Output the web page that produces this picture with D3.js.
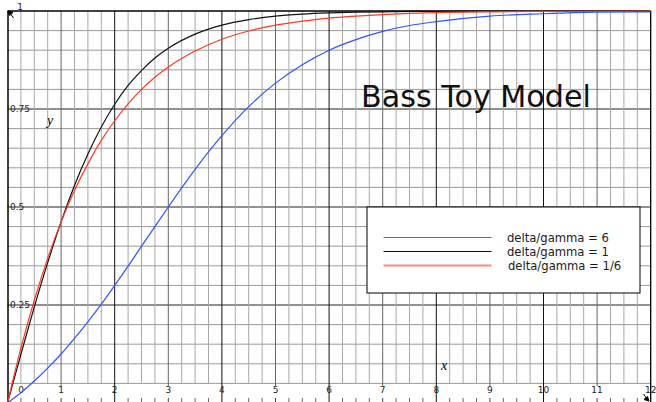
<!DOCTYPE html>
<html><head><meta charset="utf-8">
<script src="https://cdn.jsdelivr.net/npm/d3@7"></script>
<style>body{margin:0;background:#fff}svg{display:block}</style>
</head><body>
<svg id="c" width="656" height="402"></svg>
<script>
// ---- data ----
const xValues = [0,0.25,0.5,0.75,1,1.25,1.5,1.75,2,2.25,2.5,2.75,3,3.5,4,4.5,5,5.5,6,6.5,7,7.5,8,9,10,11,12];
const ratio6   = [0,0.026,0.056,0.089,0.125,0.165,0.207,0.252,0.300,0.349,0.400,0.450,0.500,0.596,0.682,0.756,0.816,0.863,0.900,0.927,0.948,0.963,0.973,0.987,0.993,0.997,0.998];
const ratio1   = [0,0.124,0.245,0.358,0.462,0.555,0.635,0.704,0.762,0.810,0.848,0.880,0.905,0.941,0.964,0.978,0.987,0.992,0.995,0.997,0.998,0.999,0.999,1.0,1.0,1.0,1.0];
const ratio1_6 = [0,0.140,0.262,0.369,0.462,0.542,0.610,0.670,0.720,0.763,0.800,0.831,0.857,0.898,0.928,0.949,0.964,0.974,0.982,0.987,0.991,0.994,0.996,0.998,0.999,0.999,1.0];
const seriesNames = ["delta/gamma = 6","delta/gamma = 1","delta/gamma = 1/6"];
const seriesColors = ["#2f55ff","#111111","#ff3a22"];
const legendColors = ["#4a66e8","#111111","#ff8a80"];
const xTickLabels = ["0","1","2","3","4","5","6","7","8","9","10","11","12"];
const yTickValues = [0.25,0.5,0.75,1];
const yTickLabels = ["0.25","0.5","0.75","1"];
const titleText = "Bass Toy Model";

const svg = d3.select("#c");
const x = d3.scaleLinear().domain([0,12]).range([7.5,650.7]);
const y = d3.scaleLinear().domain([0,1]).range([403,11]);
const yMinorStop = y(0.05);

const g = svg.append("g");
// horizontal minor grid every 0.05
d3.range(1,20).forEach(i=>{
  const v=i*0.05;
  const major = i%5===0;
  g.append("line").attr("x1",x(0)).attr("x2",x(12)).attr("y1",y(v)).attr("y2",y(v))
   .attr("stroke",major?"#222":"#999").attr("stroke-width",1);
});
// vertical grid every 0.25
d3.range(1,48).forEach(i=>{
  const v=i/4;
  let col="#a8a8a8", bottom=yMinorStop;
  if(i%8===0){col="#111";bottom=402;}
  else if(i%4===0){col="#666";bottom=386;}
  g.append("line").attr("x1",x(v)).attr("x2",x(v)).attr("y1",y(1)).attr("y2",bottom)
   .attr("stroke",col).attr("stroke-width",1);
  if(i%8!==0){
    g.append("line").attr("x1",x(v)).attr("x2",x(v)).attr("y1",398).attr("y2",403)
     .attr("stroke",i%4===0?"#444":"#666").attr("stroke-width",1);
  }
});
// frame / axes
g.append("line").attr("x1",x(0)).attr("x2",x(12)).attr("y1",y(1)).attr("y2",y(1)).attr("stroke","#000").attr("stroke-width",1.3);
g.append("line").attr("x1",x(12)).attr("x2",x(12)).attr("y1",y(1)).attr("y2",402).attr("stroke","#000").attr("stroke-width",1.3);
g.append("line").attr("x1",8).attr("x2",8).attr("y1",y(1)).attr("y2",402).attr("stroke","#000").attr("stroke-width",1.5);
// corner arrows
svg.append("path").attr("d","M8,11 L13,12.5 L9.5,15.5 Z M10,13 L13.5,18").attr("stroke","#000").attr("fill","#000").attr("stroke-width",1);
svg.append("path").attr("d","M649,401 L644,399.5 L647.5,396.5 Z M647,399 L643.5,394").attr("stroke","#000").attr("fill","#000").attr("stroke-width",1);

// tick labels
const lab = svg.append("g").attr("font-family","DejaVu Sans, sans-serif").attr("font-size",9).attr("fill","#222");
xTickLabels.forEach((t,i)=>{
  lab.append("text").attr("x", i===0 ? 21 : x(i)).attr("y",393).attr("text-anchor","middle").text(t);
});
yTickValues.forEach((v,i)=>{
  if(v===1){ lab.append("text").attr("x",20).attr("y",9.5).attr("text-anchor","middle").text(yTickLabels[i]); }
  else { lab.append("text").attr("x",10).attr("y",y(v)+3.3).text(yTickLabels[i]); }
});
// axis names
svg.append("text").attr("x",50).attr("y",125).attr("font-family","Liberation Serif, serif").attr("font-style","italic").attr("font-size",14).attr("text-anchor","middle").text("y");
svg.append("text").attr("x",444).attr("y",370).attr("font-family","Liberation Serif, serif").attr("font-style","italic").attr("font-size",14).attr("text-anchor","middle").text("x");

// curves
const line = d3.line().x(d=>x(d[0])).y(d=>y(d[1])).curve(d3.curveMonotoneX);
[ratio6, ratio1, ratio1_6].forEach((s,k)=>{
  svg.append("path").datum(xValues.map((xv,i)=>[xv,s[i]]))
    .attr("d",line).attr("fill","none").attr("stroke",seriesColors[k]).attr("stroke-width",1.2);
});

// title
const title = svg.append("text").attr("x",361).attr("y",107).attr("font-family","DejaVu Sans, sans-serif")
  .attr("font-size",30).attr("fill","#111").text(titleText);
const tw = title.node().getComputedTextLength();
title.attr("font-size", 30*230/tw);

// legend
const lg = svg.append("g");
lg.append("rect").attr("x",367).attr("y",207).attr("width",273).attr("height",86)
  .attr("fill","#fff").attr("stroke","#000").attr("stroke-width",1);
const ly = [237.5,251.5,265.5];
seriesNames.forEach((n,k)=>{
  lg.append("line").attr("x1",383.5).attr("x2",491.5).attr("y1",ly[k]).attr("y2",ly[k])
    .attr("stroke",legendColors[k]).attr("stroke-width",k===2?1.8:1.2);
  lg.append("text").attr("x",k===2?508:507).attr("y",ly[k]+4).attr("font-family","DejaVu Sans, sans-serif")
    .attr("font-size",11.6).attr("fill","#1a1a1a").text(n);
});
</script>
</body></html>
